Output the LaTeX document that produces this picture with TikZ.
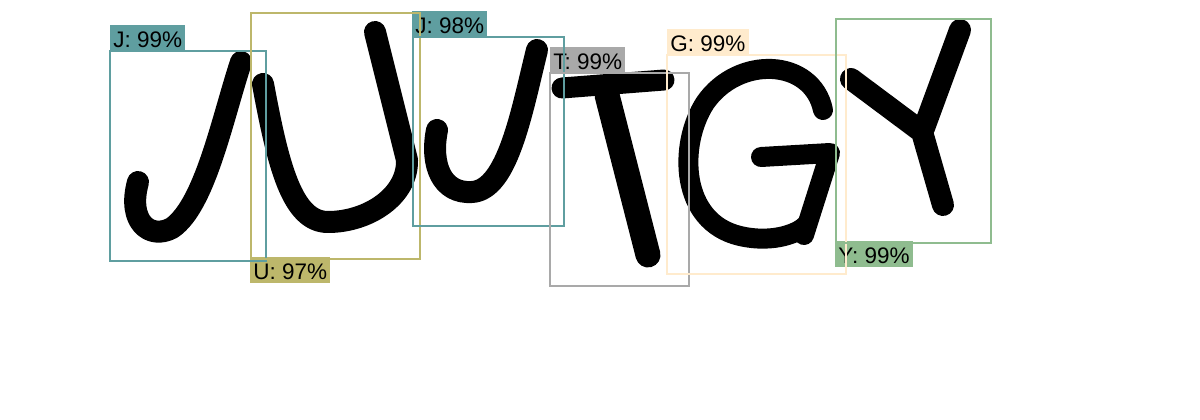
\documentclass[tikz,border=0pt]{standalone}
\usepackage{fontspec}
\setmainfont{Liberation Sans}
\definecolor{cadet}{RGB}{95,158,160}
\definecolor{dkhaki}{RGB}{189,183,107}
\definecolor{dgray}{RGB}{169,169,169}
\definecolor{almond}{RGB}{255,235,205}
\definecolor{dsgreen}{RGB}{143,188,143}
\begin{document}
\begin{tikzpicture}[x=1pt,y=-1pt,
  stroke/.style={line width=22pt,line cap=round,line join=round,black},
  bx/.style={line width=2pt},
  lab/.style={font=\fontsize{22.5}{22.5}\selectfont,inner xsep=3.2pt,inner ysep=2.5pt,text height=20pt,text depth=1pt,text=black}]
\useasboundingbox (0,0) rectangle (1200,420);
\fill[white] (0,0) rectangle (1200,420);
% letters
% J1
\draw[stroke] (241,62) .. controls (222,120) and (205,205) .. (172,228) .. controls (150,240) and (127,222) .. (138,182);
% U
\draw[stroke] (263,84) .. controls (278,165) and (292,222) .. (328,222) .. controls (368,222) and (408,196) .. (407,160) -- (375,32);
% J2
\draw[stroke] (537,50) .. controls (522,110) and (508,190) .. (472,192) .. controls (442,194) and (430,165) .. (437,130);
% T
\draw[stroke,line width=21pt] (562,88) -- (664,80);
\draw[stroke,line width=25pt] (607,95) -- (648,255);
% G
\draw[stroke,line width=20pt] (823,110) .. controls (812,58) and (738,55) .. (705,103) .. controls (678,145) and (680,222) .. (740,236) .. controls (775,244) and (800,232) .. (806,225);
\draw[stroke,line width=20pt] (761,157) -- (830,153) -- (804,235);
% Y
\draw[stroke] (851,79) -- (922,132) -- (943,205);
\draw[stroke] (960,30) -- (924,128);
% labels
\node[lab,fill=cadet,anchor=south west] (lJa) at (110,51) {J: 99\%};
\node[lab,fill=dkhaki,anchor=north west] (lU) at (250,257) {U: 97\%};
\node[lab,fill=cadet,anchor=south west] (lJb) at (412,37) {J: 98\%};
\node[lab,fill=dgray,anchor=south west] (lT) at (550,73) {T: 99\%};
\node[lab,fill=almond,anchor=south west] (lG) at (667,55) {G: 99\%};
\node[lab,fill=dsgreen,anchor=north west] (lY) at (835,241) {Y: 99\%};
% boxes
\draw[bx,cadet] (110,51) rectangle (266,261);
\draw[bx,dkhaki] (251,13) rectangle (420,259);
\draw[bx,cadet] (413,37) rectangle (564,226);
\draw[bx,dgray] (550,73) rectangle (689,286);
\draw[bx,almond] (667,55) rectangle (846,274);
\draw[bx,dsgreen] (836,19) rectangle (991,243);
\end{tikzpicture}
\end{document}
